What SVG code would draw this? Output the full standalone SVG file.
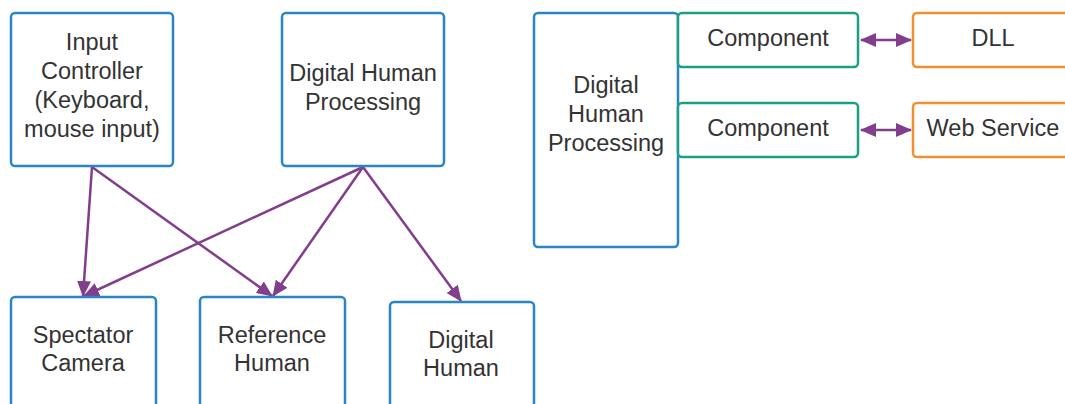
<svg xmlns="http://www.w3.org/2000/svg" width="1065" height="404" viewBox="0 0 1065 404">
<style>
.b{fill:#fff;stroke:#2a85c6;stroke-width:2.5}
.t{fill:#fff;stroke:#1ca083;stroke-width:2.5}
.o{fill:#fff;stroke:#f29030;stroke-width:2.5}
text{font-family:"Liberation Sans",Arial,sans-serif;font-size:23.5px;fill:#333;text-anchor:middle}
.c{stroke:#823d8c;stroke-width:2.5;fill:none}
</style>
<defs>
<marker id="ah" viewBox="0 0 16 14" refX="15" refY="7" markerWidth="16" markerHeight="14" markerUnits="userSpaceOnUse" orient="auto-start-reverse">
<path d="M0,0 L16,7 L0,14 Z" fill="#823d8c"/>
</marker>
</defs>
<rect width="1065" height="404" fill="#fff"/>
<g id="connectors">
<line class="c" x1="92" y1="167" x2="83" y2="296" marker-end="url(#ah)"/>
<line class="c" x1="92" y1="167" x2="272" y2="296" marker-end="url(#ah)"/>
<line class="c" x1="363" y1="167" x2="84" y2="296" marker-end="url(#ah)"/>
<line class="c" x1="363" y1="167" x2="273" y2="296" marker-end="url(#ah)"/>
<line class="c" x1="363" y1="167" x2="461" y2="301" marker-end="url(#ah)"/>
<line class="c" x1="861" y1="40" x2="911" y2="40" marker-start="url(#ah)" marker-end="url(#ah)"/>
<line class="c" x1="861" y1="130" x2="911" y2="130" marker-start="url(#ah)" marker-end="url(#ah)"/>
</g>
<g id="input-controller">
<rect class="b" x="11" y="13" width="162" height="153" rx="4"/>
<text x="92" y="50">Input</text>
<text x="92" y="79">Controller</text>
<text x="92" y="108">(Keyboard,</text>
<text x="92" y="137">mouse input)</text>
</g>
<g id="dhp-top">
<rect class="b" x="282" y="13" width="162" height="153" rx="4"/>
<text x="363" y="81">Digital Human</text>
<text x="363" y="110">Processing</text>
</g>
<g id="spectator-camera">
<rect class="b" x="11" y="297" width="145" height="125" rx="4"/>
<text x="83" y="343">Spectator</text>
<text x="83" y="371">Camera</text>
</g>
<g id="reference-human">
<rect class="b" x="200" y="297" width="145" height="125" rx="4"/>
<text x="272" y="343">Reference</text>
<text x="272" y="371">Human</text>
</g>
<g id="digital-human">
<rect class="b" x="390" y="302" width="144" height="125" rx="4"/>
<text x="461" y="348">Digital</text>
<text x="461" y="376">Human</text>
</g>
<g id="dhp-right">
<rect class="b" x="534" y="13" width="144" height="234" rx="4"/>
<text x="606" y="93">Digital</text>
<text x="606" y="122">Human</text>
<text x="606" y="151">Processing</text>
</g>
<g id="component-1">
<rect class="t" x="678" y="13" width="180" height="54" rx="4"/>
<text x="768" y="46">Component</text>
</g>
<g id="component-2">
<rect class="t" x="678" y="103" width="180" height="54" rx="4"/>
<text x="768" y="136">Component</text>
</g>
<g id="dll">
<rect class="o" x="913" y="13" width="162" height="54" rx="4"/>
<text x="993" y="46">DLL</text>
</g>
<g id="web-service">
<rect class="o" x="913" y="103" width="162" height="54" rx="4"/>
<text x="993" y="136">Web Service</text>
</g>
</svg>
